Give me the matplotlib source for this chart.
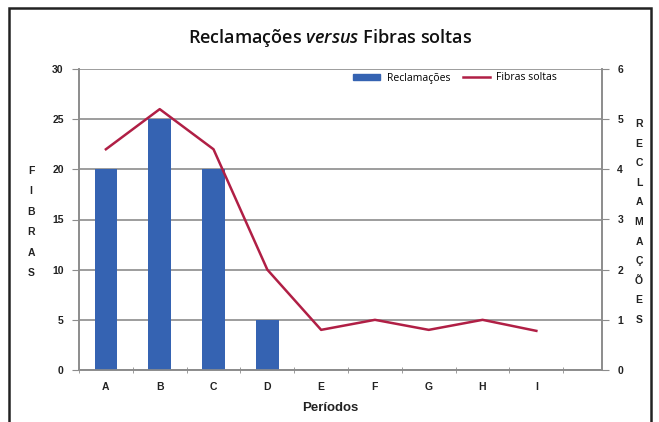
import matplotlib
matplotlib.use("Agg")
import matplotlib.pyplot as plt
from matplotlib.patches import Rectangle
from matplotlib.lines import Line2D
from matplotlib.patches import Patch

categories = ["A", "B", "C", "D", "E", "F", "G", "H", "I"]
reclamacoes = [20, 25, 20, 5, 0, 0, 0, 0, 0]          # bars, left axis
fibras_soltas = [4.4, 5.2, 4.4, 2.0, 0.8, 1.0, 0.8, 1.0, 0.78]  # line, right axis
left_ticks = [0, 5, 10, 15, 20, 25, 30]
right_ticks = [0, 1, 2, 3, 4, 5, 6]

plt.rcParams['mathtext.fontset'] = 'custom'
plt.rcParams['mathtext.it'] = 'Open Sans:italic:semibold'
plt.rcParams['mathtext.rm'] = 'Open Sans:semibold'

W, H = 659, 422
fig = plt.figure(figsize=(W/100, H/100), dpi=100)
ax = fig.add_axes([79/W, 1-370/H, (602-79)/W, (370-69)/H])
ax2 = ax.twinx()

blue = "#3563B2"
red = "#B01F45"
grid = "#8C8C8C"

x = list(range(len(categories)))
ax.bar(x, reclamacoes, width=0.42, color=blue, zorder=3)
ax2.plot(x, fibras_soltas, color=red, lw=1.8, zorder=4)

ax.set_xlim(-0.5, 9.22)
ax.set_ylim(0, 30)
ax2.set_ylim(0, 6)
ax.set_yticks(left_ticks)
ax2.set_yticks(right_ticks)
for v in left_ticks:
    ax.axhline(v, color=grid, lw=1.2, zorder=1)

ax.set_xticks(x)
ax.set_xticklabels(categories)
ax.set_xticks([i - 0.5 for i in range(len(categories) + 1)], minor=True)
ax.tick_params(axis='x', which='major', length=0, pad=9, labelsize=7.5)
ax.tick_params(axis='x', which='minor', length=4, color=grid, direction='inout')
ax.tick_params(axis='y', length=5, color=grid, labelsize=7.5, pad=6)
ax2.tick_params(axis='y', length=5, color=grid, labelsize=7.5, pad=6)
for t in ax.get_xticklabels() + ax.get_yticklabels() + ax2.get_yticklabels():
    t.set_fontweight('bold')
    t.set_family('Liberation Sans')
    t.set_color('#222222')

for a in (ax, ax2):
    a.spines['top'].set_visible(False)
    for s in ('left', 'right', 'bottom'):
        a.spines[s].set_color(grid)
        a.spines[s].set_linewidth(1.2)

# Title
fig.text(330/W, 1-38/H, r"Reclamações $\mathit{versus}$ Fibras soltas",
         ha='center', va='center', fontsize=13, family='Open Sans',
         fontweight='semibold', color='#111111')

# Stacked axis labels
fig.text(31/W, 1-222/H, "\n".join("FIBRAS"), ha='center', va='center',
         fontsize=7.5, fontweight='bold', family='Liberation Sans',
         linespacing=2.3, color='#222222')
fig.text(639/W, 1-222/H, "\n".join("RECLAMAÇÕES"), ha='center', va='center',
         fontsize=7.5, fontweight='bold', family='Liberation Sans',
         linespacing=2.2, color='#222222')
fig.text(330/W, 1-408/H, "Períodos", ha='center', va='center',
         fontsize=9.5, fontweight='bold', family='Liberation Sans', color='#222222')

# Legend
handles = [Patch(color=blue), Line2D([0], [0], color=red, lw=1.8)]
leg = ax.legend(handles, ["Reclamações", "Fibras soltas"], ncol=2,
                loc='center', bbox_to_anchor=((455-79)/(602-79), (370-78)/(301)),
                frameon=False, handlelength=2.6, handleheight=0.5,
                columnspacing=1.2, handletextpad=0.6,
                prop={'family': 'Open Sans', 'size': 7.5})

# Outer frame
fig.patches.append(Rectangle((9/W, -0.05), (651-9)/W, 1.05 - 8/H,
                             transform=fig.transFigure, fill=False,
                             edgecolor='#222222', lw=1.8))

fig.savefig("out.png", dpi=100)
